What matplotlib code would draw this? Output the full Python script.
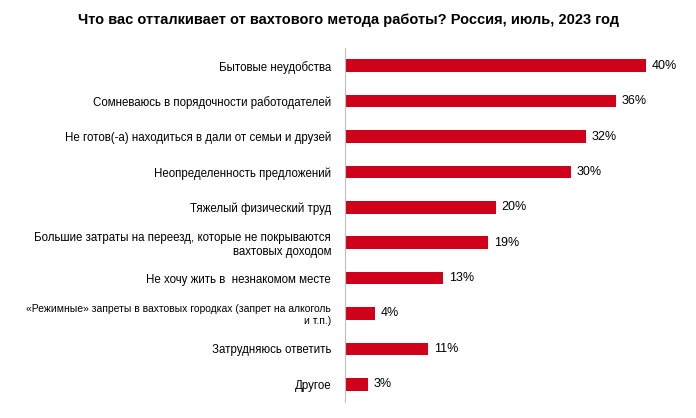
import matplotlib
matplotlib.use("Agg")
import matplotlib.pyplot as plt

plt.rcParams["font.family"] = "Liberation Sans"

categories = [
    "Бытовые неудобства",
    "Сомневаюсь в порядочности работодателей",
    "Не готов(-а) находиться в дали от семьи и друзей",
    "Неопределенность предложений",
    "Тяжелый физический труд",
    "Большие затраты на переезд, которые не покрываются\nвахтовых доходом",
    "Не хочу жить в  незнакомом месте",
    "«Режимные» запреты в вахтовых городках (запрет на алкоголь\nи т.п.)",
    "Затрудняюсь ответить",
    "Другое",
]
values = [40, 36, 32, 30, 20, 19, 13, 4, 11, 3]

fig = plt.figure(figsize=(6.96, 4.18), dpi=100)
ax = fig.add_axes([345/696, 1-402/418, 301/696/40*44, 354/418])
y = list(range(len(values)))
ax.barh(y, values, height=0.36, color="#d0021b")
ax.set_ylim(len(values)-0.5, -0.5)
ax.set_xlim(0, 44)
ax.set_yticks(y)
labels = ax.set_yticklabels(categories, fontsize=8.3)
labels[7].set_fontsize(7.5)
ax.tick_params(axis="y", length=0, pad=10)
ax.set_xticks([])
for s in ["top", "right", "bottom"]:
    ax.spines[s].set_visible(False)
ax.spines["left"].set_color("#bfbfbf")
for yi, v in zip(y, values):
    ax.text(v + 0.8, yi, f"{v}%", va="center", ha="left", fontsize=9)
fig.text(0.5, 1-20/418, "Что вас отталкивает от вахтового метода работы? Россия, июль, 2023 год",
         ha="center", va="center", fontsize=10.5, fontweight="bold")
fig.savefig("out.png", dpi=100)
